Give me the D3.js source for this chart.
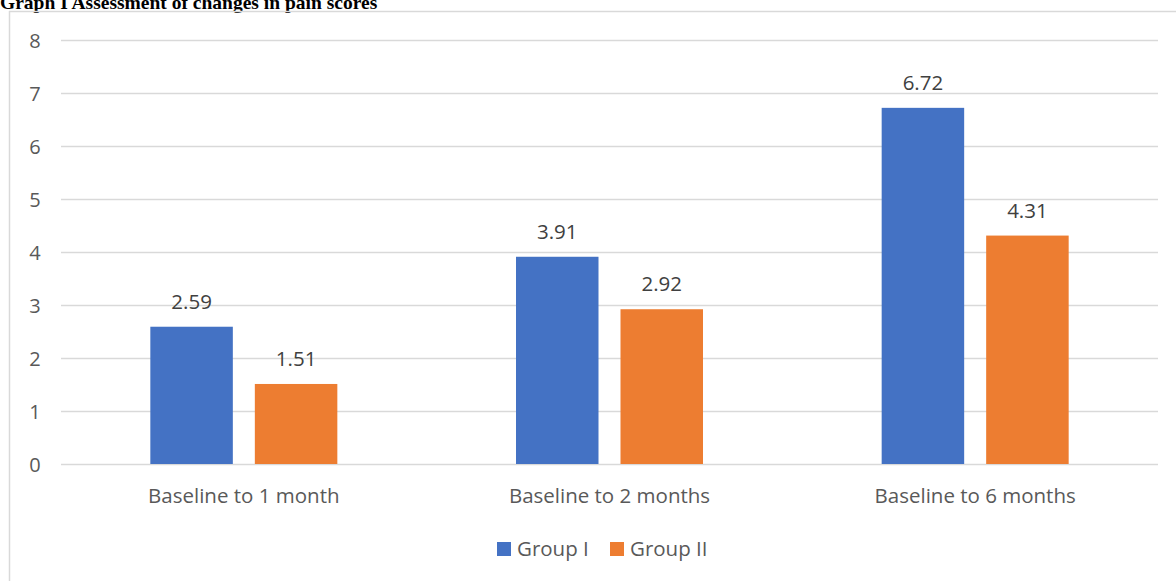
<!DOCTYPE html>
<html>
<head>
<meta charset="utf-8">
<script src="https://cdn.jsdelivr.net/npm/d3@7"></script>
<style>
  body { margin: 0; background: #fff; }
  svg { display: block; }
</style>
</head>
<body>
<svg id="chart" width="1176" height="581"></svg>
<script>
// chart data
var categories = ['Baseline to 1 month', 'Baseline to 2 months', 'Baseline to 6 months'];
var groups = ['Group I', 'Group II'];
var groupI = [2.59, 3.91, 6.72];
var groupII = [1.51, 2.92, 4.31];
var yTicks = [0, 1, 2, 3, 4, 5, 6, 7, 8];
var colors = ['#4472c4', '#ed7d31'];

var svg = d3.select('#chart');
var font = '"Open Sans", "Noto Sans", sans-serif';

var plotLeft = 61, plotRight = 1158, plotTop = 40, plotBottom = 464;

// title (cut off at top like the source)
svg.append('text')
    .attr('x', 0).attr('y', 9)
    .attr('font-family', '"Liberation Serif", "Times New Roman", serif')
    .attr('font-weight', 'bold')
    .attr('font-size', 19.5)
    .attr('fill', '#000')
    .text('Graph I Assessment of changes in pain scores');

// chart frame
svg.append('line').attr('x1', 9.5).attr('x2', 9.5).attr('y1', 11).attr('y2', 581)
    .attr('stroke', '#d9d9d9').attr('stroke-width', 1.5);
svg.append('line').attr('x1', 9).attr('x2', 1176).attr('y1', 11.5).attr('y2', 11.5)
    .attr('stroke', '#d9d9d9').attr('stroke-width', 1.5);

var y = d3.scaleLinear().domain([0, 8]).range([plotBottom, plotTop]);
var x0 = d3.scaleBand().domain(categories).range([plotLeft, plotRight]).padding(0);
var bw = x0.bandwidth();
var x1 = d3.scaleBand().domain(groups)
    .range([bw / 2 - 93.5, bw / 2 + 93.5]).paddingInner(22 / 104.5);

// gridlines + y labels
var yAxis = d3.axisLeft(y).tickValues(yTicks).tickSize(-(plotRight - plotLeft)).tickFormat(d3.format('d'));
var ga = svg.append('g').attr('transform', 'translate(' + plotLeft + ',0)').call(yAxis);
ga.select('.domain').remove();
ga.selectAll('.tick line').attr('stroke', '#d9d9d9').attr('stroke-width', 1.3);
ga.selectAll('.tick text')
    .attr('x', -26).attr('dy', '0.35em').attr('text-anchor', 'middle')
    .attr('font-family', font).attr('font-size', 20).attr('fill', '#595959');

var rows = categories.map(function (c, i) {
    return { cat: c, vals: [groupI[i], groupII[i]] };
});

var cg = svg.selectAll('.cat').data(rows).enter().append('g')
    .attr('class', 'cat')
    .attr('transform', function (d) { return 'translate(' + x0(d.cat) + ',0)'; });

cg.selectAll('rect').data(function (d) {
    return d.vals.map(function (v, j) { return { g: groups[j], v: v, j: j }; });
}).enter().append('rect')
    .attr('x', function (d) { return x1(d.g); })
    .attr('width', x1.bandwidth())
    .attr('y', function (d) { return y(d.v); })
    .attr('height', function (d) { return y(0) - y(d.v); })
    .attr('fill', function (d) { return colors[d.j]; });

cg.selectAll('text.val').data(function (d) {
    return d.vals.map(function (v, j) { return { g: groups[j], v: v }; });
}).enter().append('text')
    .attr('class', 'val')
    .attr('x', function (d) { return x1(d.g) + x1.bandwidth() / 2; })
    .attr('y', function (d) { return y(d.v) - 18; })
    .attr('text-anchor', 'middle')
    .attr('font-family', font).attr('font-size', 20.5).attr('fill', '#404040')
    .text(function (d) { return d3.format('.2f')(d.v); });

// category labels
cg.append('text')
    .attr('x', bw / 2).attr('y', plotBottom + 39)
    .attr('text-anchor', 'middle')
    .attr('font-family', font).attr('font-size', 20.5).attr('fill', '#595959')
    .text(function (d) { return d.cat; });

// legend
var legX = [497, 610];
var lg = svg.selectAll('.leg').data(groups).enter().append('g')
    .attr('class', 'leg')
    .attr('transform', function (d, i) { return 'translate(' + legX[i] + ',542)'; });
lg.append('rect').attr('width', 14).attr('height', 14)
    .attr('fill', function (d, i) { return colors[i]; });
lg.append('text').attr('x', 20).attr('y', 14)
    .attr('font-family', font).attr('font-size', 20.5).attr('fill', '#595959')
    .text(function (d) { return d; });
</script>
</body>
</html>
